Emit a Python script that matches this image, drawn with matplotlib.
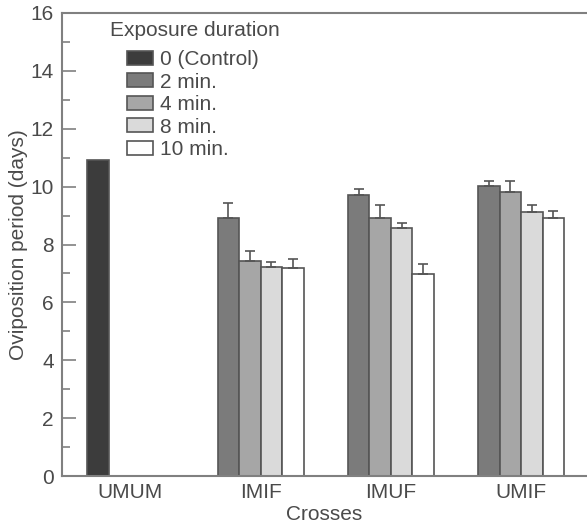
import numpy as np
import matplotlib
matplotlib.use("Agg")
import matplotlib.pyplot as plt

plt.rcParams["font.family"] = ["Liberation Sans", "DejaVu Sans"]

crosses = ["UMUM", "IMIF", "IMUF", "UMIF"]
series_labels = ["0 (Control)", "2 min.", "4 min.", "8 min.", "10 min."]
nan = np.nan
control = [10.92, nan, nan, nan]
min2 = [nan, 8.90, 9.71, 10.03]
min4 = [nan, 7.44, 8.90, 9.80]
min8 = [nan, 7.23, 8.58, 9.11]
min10 = [nan, 7.18, 6.98, 8.93]
min2_err = [nan, 0.55, 0.21, 0.17]
min4_err = [nan, 0.32, 0.46, 0.39]
min8_err = [nan, 0.15, 0.15, 0.25]
min10_err = [nan, 0.33, 0.34, 0.22]

colors = ["#3c3c3c", "#7b7b7b", "#a6a6a6", "#dadada", "#ffffff"]
edge = "#555555"
textc = "#4a4a4a"
spinec = "#808080"

fig = plt.figure(figsize=(5.87, 5.25), dpi=100)
ax = fig.add_axes([62/587, 49/525, 525/587, 463/525])

x = np.arange(len(crosses), dtype=float)
w = 0.165
offsets = [-1.5*w, -1.5*w, -0.5*w, 0.5*w, 1.5*w]
ax.bar(x + offsets[0], control, w, color=colors[0], edgecolor=edge, linewidth=1.2,
       label=series_labels[0])
treat = [min2, min4, min8, min10]
errs = [min2_err, min4_err, min8_err, min10_err]
for i, (vals, e) in enumerate(zip(treat, errs)):
    off = offsets[i+1]
    ax.bar(x + off, vals, w, color=colors[i+1], edgecolor=edge, linewidth=1.2,
           label=series_labels[i+1])
    ax.errorbar(x + off, vals, yerr=[np.zeros(len(e)), e], fmt="none",
                ecolor=edge, elinewidth=1.2, capsize=3.8, capthick=1.2)

ax.set_xlim(-0.524, 3.505)
ax.set_ylim(0, 16)
ax.set_yticks(np.arange(0, 17, 2))
ax.set_yticks(np.arange(1, 16, 2), minor=True)
ax.tick_params(axis="y", which="major", direction="in", length=10, width=1.2,
               color=spinec, labelsize=15, labelcolor=textc, pad=6)
ax.tick_params(axis="y", which="minor", direction="in", length=6, width=1.2, color=spinec)
ax.set_xticks(x)
ax.set_xticklabels(crosses)
ax.tick_params(axis="x", length=0, labelsize=15, labelcolor=textc, pad=5)

for s in ["left", "bottom", "top"]:
    ax.spines[s].set_color(spinec)
    ax.spines[s].set_linewidth(1.5)
ax.spines["right"].set_visible(False)

ax.set_ylabel("Oviposition period (days)", fontsize=15, color=textc, labelpad=2)
ax.set_xlabel("Crosses", fontsize=15, color=textc, labelpad=2)

ax.text((110-62)/525, (476-30)/463, "Exposure duration", transform=ax.transAxes,
        fontsize=15, color=textc, va="center", ha="left")
leg = ax.legend(loc="upper left", bbox_to_anchor=((127-62)/525, (476-50)/463),
                frameon=False, fontsize=15, handlelength=1.25, handleheight=0.65,
                labelspacing=0.17, handletextpad=0.35, borderpad=0, borderaxespad=0)
for t in leg.get_texts():
    t.set_color(textc)

fig.savefig("out.png", dpi=100)
